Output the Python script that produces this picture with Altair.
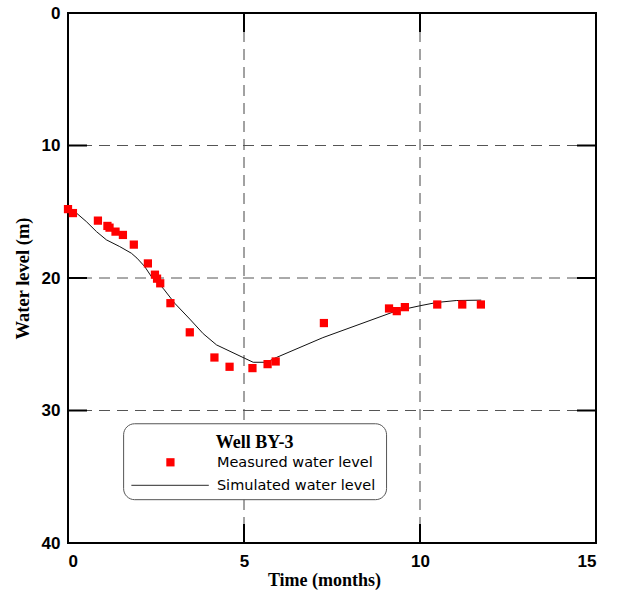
import altair as alt
import pandas as pd

# Measured water level (Well BY-3)
meas_t = [0.00, 0.14, 0.85, 1.12, 1.18, 1.35, 1.56, 1.87, 2.27, 2.47, 2.53, 2.62,
          2.91, 3.46, 4.16, 4.59, 5.24, 5.67, 5.90, 7.27, 9.12, 9.34, 9.57,
          10.49, 11.20, 11.73]
meas_level = [14.8, 15.1, 15.67, 16.07, 16.2, 16.5, 16.75, 17.48, 18.9, 19.75, 20.05,
              20.4, 21.9, 24.1, 26.0, 26.7, 26.8, 26.5, 26.3, 23.4, 22.3, 22.5,
              22.2, 22.0, 22.0, 22.0]

# Simulated water level
sim_t = [0.05, 0.24, 0.52, 0.81, 1.09, 1.47, 1.80, 1.96, 2.18, 2.37, 2.70, 3.03,
         3.46, 3.84, 4.22, 5.02, 5.26, 5.64, 5.92, 7.24, 9.33, 9.99, 10.47,
         11.03, 11.74]
sim_level = [14.8, 15.1, 15.74, 16.5, 17.12, 17.63, 18.13, 18.5, 19.14, 19.9, 20.77,
             21.9, 23.1, 24.2, 25.05, 26.06, 26.36, 26.36, 26.0, 24.5, 22.48, 22.1,
             21.85, 21.7, 21.67]

x_ticks = [0, 5, 10, 15]
y_ticks = [0, 10, 20, 30, 40]
x_grid = [5, 10]
y_grid = [10, 20, 30]

legend_title = "Well BY-3"
legend_labels = ["Measured water level", "Simulated water level"]

W, H = 528, 530
XMAX, YMAX = 15, 40
TICK_PX = 19
tx = TICK_PX * XMAX / W
ty = TICK_PX * YMAX / H

xs = alt.Scale(domain=[0, XMAX], nice=False, zero=False)
ys = alt.Scale(domain=[0, YMAX], nice=False, zero=False, reverse=True)

x_axis = alt.Axis(values=x_ticks, grid=False, ticks=False, tickSize=0, domain=False,
                  labelFont="Liberation Sans", labelFontWeight="bold", labelFontSize=17,
                  labelColor="#000", labelPadding=10,
                  title="Time (months)", titleFont="Liberation Serif", titleFontWeight="bold",
                  titleFontSize=18, titleColor="#000", titlePadding=2, titleX=256)
y_axis = alt.Axis(values=y_ticks, grid=False, ticks=False, tickSize=0, domain=False,
                  labelFont="Liberation Sans", labelFontWeight="bold", labelFontSize=17,
                  labelColor="#000", labelPadding=8,
                  title="Water level (m)", titleFont="Liberation Serif", titleFontWeight="bold",
                  titleFontSize=18.5, titleColor="#000", titlePadding=9)

X = lambda f="x": alt.X(f + ":Q", scale=xs, axis=x_axis)
Y = lambda f="y": alt.Y(f + ":Q", scale=ys, axis=y_axis)

meas_df = pd.DataFrame({"x": meas_t, "y": meas_level})
sim_df = pd.DataFrame({"x": sim_t, "y": sim_level})

grid_v = alt.Chart(pd.DataFrame({"x": x_grid})).mark_rule(
    color="#444", strokeWidth=1, strokeDash=[11, 7]).encode(x=X())
grid_h = alt.Chart(pd.DataFrame({"y": y_grid})).mark_rule(
    color="#555", strokeWidth=1, strokeDash=[11, 7]).encode(y=Y())

# inward tick marks (in data units)
segs = []
for v in x_ticks[1:-1]:
    segs.append({"x": v, "x2": v, "y": 0, "y2": ty})
    segs.append({"x": v, "x2": v, "y": YMAX - ty, "y2": YMAX})
for v in y_ticks[1:-1]:
    segs.append({"x": 0, "x2": tx, "y": v, "y2": v})
    segs.append({"x": XMAX - tx, "x2": XMAX, "y": v, "y2": v})
ticks = alt.Chart(pd.DataFrame(segs)).mark_rule(color="#000", strokeWidth=2).encode(
    x=X(), x2="x2:Q", y=Y(), y2="y2:Q")

sim_line = alt.Chart(sim_df).mark_line(color="#111", strokeWidth=1).encode(
    x=X(), y=Y(), order="x:Q")
meas_pts = alt.Chart(meas_df).mark_square(color="#ff0000", opacity=1, size=68).encode(
    x=X(), y=Y())

# legend (placed in data coordinates)
leg_box = alt.Chart(pd.DataFrame([{"x": 1.58, "x2": 9.05, "y": 31.0, "y2": 36.73}])).mark_rect(
    fill="white", stroke="#555", strokeWidth=1, cornerRadius=11).encode(
    x=X(), x2="x2:Q", y=Y(), y2="y2:Q")
leg_title = alt.Chart(pd.DataFrame([{"x": 5.30, "y": 32.8, "t": legend_title}])).mark_text(
    font="Liberation Serif", fontWeight="bold", fontSize=18, color="#000",
    align="center", baseline="alphabetic").encode(x=X(), y=Y(), text="t:N")
leg_text = alt.Chart(pd.DataFrame({"x": [4.23, 4.23], "y": [34.27, 36.0],
                                   "t": legend_labels})).mark_text(
    font="DejaVu Sans", fontSize=14.5, color="#000", align="left",
    baseline="alphabetic").encode(x=X(), y=Y(), text="t:N")
leg_marker = alt.Chart(pd.DataFrame([{"x": 2.91, "y": 33.91}])).mark_square(
    color="#ff0000", opacity=1, size=68).encode(x=X(), y=Y())
leg_line = alt.Chart(pd.DataFrame([{"x": 1.80, "x2": 4.00, "y": 35.65}])).mark_rule(
    color="#555", strokeWidth=1.2).encode(x=X(), x2="x2:Q", y=Y())

chart = alt.layer(
    grid_v, grid_h, ticks, sim_line, meas_pts,
    leg_box, leg_title, leg_text, leg_marker, leg_line
).properties(
    width=W, height=H,
    autosize=alt.AutoSizeParams(type="none"),
    padding={"left": 68, "top": 13, "right": 617 - 68 - W, "bottom": 594 - 13 - H},
    background="white",
).configure_view(stroke="#000", strokeWidth=2)

chart.save("out.html", embed_options={"renderer": "svg", "actions": False})
